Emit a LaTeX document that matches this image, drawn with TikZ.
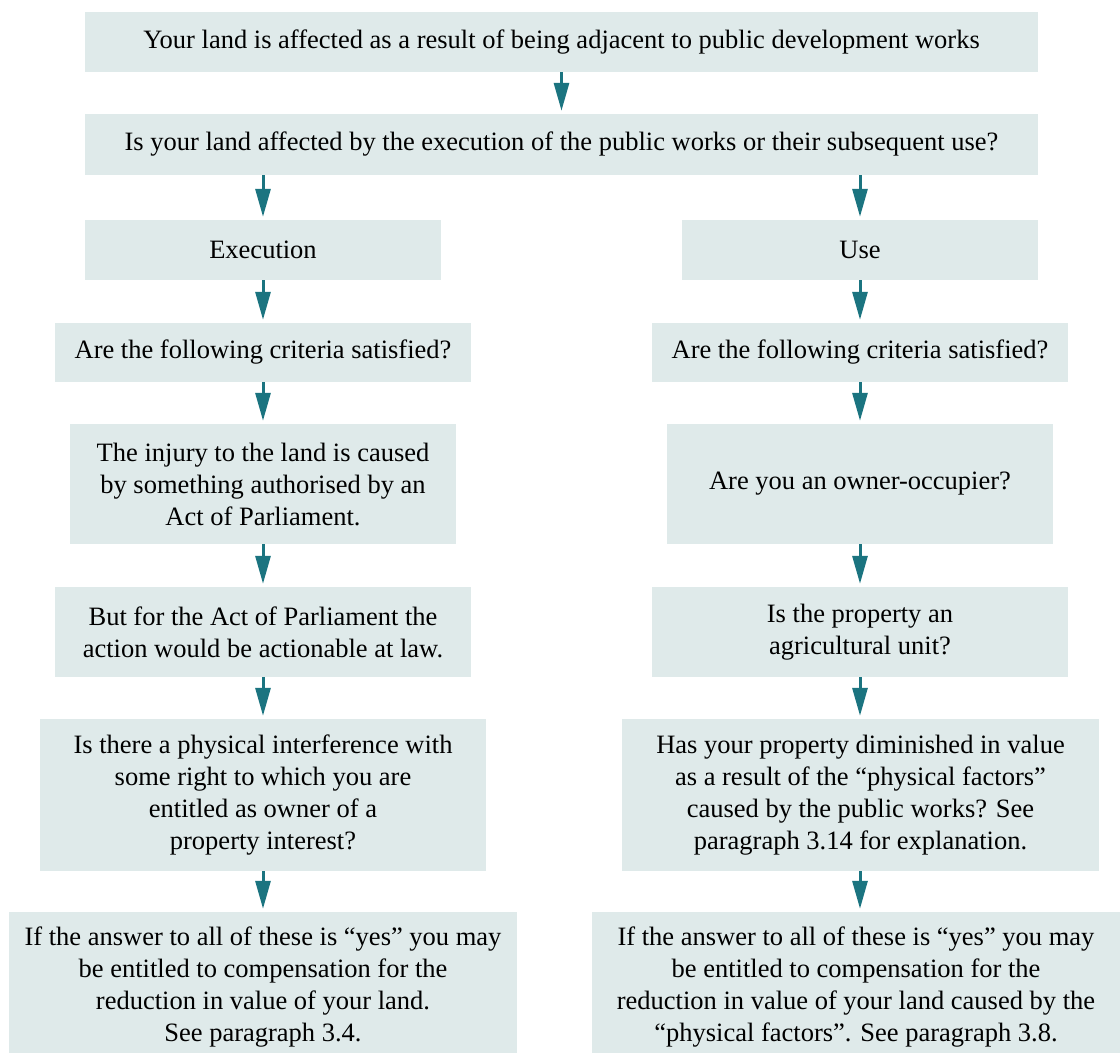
\documentclass[tikz,border=0pt]{standalone}
\usepackage{fontspec}
\setmainfont{Liberation Serif}
\usetikzlibrary{arrows.meta}
\definecolor{boxfill}{HTML}{DFEAEA}
\definecolor{flowteal}{HTML}{1B7480}
\tikzset{
  box/.style={rectangle, fill=boxfill, inner sep=0pt, align=center,
              font=\fontsize{26.5}{32}\selectfont},
  flow/.style={draw=flowteal, line width=3pt,
               -{Triangle[length=28pt,width=15pt,fill=flowteal]},
               shorten >=3pt}
}
\begin{document}
\begin{tikzpicture}[x=1pt,y=-1pt]
\useasboundingbox[fill=white] (0,0) rectangle (1120,1053);

% trunk
\node[box, minimum width=953pt, minimum height=60pt] (start) at (561.5,42)
  {Your land is affected as a result of being adjacent to public development works};
\node[box, minimum width=953pt, minimum height=61pt] (which) at (561.5,144.5)
  {Is your land affected by the execution of the public works or their subsequent use?};

% execution branch
\node[box, minimum width=356pt, minimum height=60pt] (exec) at (263,250) {Execution};
\node[box, minimum width=416pt, minimum height=59pt] (critL) at (263,352.5)
  {Are the following criteria satisfied?};
\node[box, minimum width=386pt, minimum height=120pt] (injury) at (263,484)
  {The injury to the land is caused\\by something authorised by an\\Act of Parliament.};
\node[box, minimum width=416pt, minimum height=90pt] (butfor) at (263,632)
  {But for the Act of Parliament the\\action would be actionable at law.};
\node[box, minimum width=446pt, minimum height=152pt] (interf) at (263,795)
  {Is there a physical interference with\\some right to which you are\\entitled as owner of a\\property interest?};
\node[box, minimum width=508pt, minimum height=150pt] (resL) at (263,987)
  {If the answer to all of these is “yes” you may\\be entitled to compensation for the\\reduction in value of your land.\\See paragraph 3.4.};

% use branch
\node[box, minimum width=356pt, minimum height=60pt] (use) at (860,250) {Use};
\node[box, minimum width=416pt, minimum height=59pt] (critR) at (860,352.5)
  {Are the following criteria satisfied?};
\node[box, minimum width=386pt, minimum height=120pt] (owner) at (860,484)
  {Are you an owner-occupier?};
\node[box, minimum width=416pt, minimum height=90pt] (agri) at (860,632)
  {Is the property an\\agricultural unit?};
\node[box, minimum width=477pt, minimum height=152pt] (value) at (860.5,795)
  {Has your property diminished in value\\as a result of the “physical factors”\\caused by the public works? See\\paragraph 3.14 for explanation.};
\node[box, minimum width=528pt, minimum height=150pt] (resR) at (856,987)
  {If the answer to all of these is “yes” you may\\be entitled to compensation for the\\reduction in value of your land caused by the\\“physical factors”. See paragraph 3.8.};

% connectors
\draw[flow] (start) -- (which);
\draw[flow] (exec |- which.south) -- (exec.north);
\draw[flow] (use |- which.south) -- (use.north);
\draw[flow] (exec) -- (critL);
\draw[flow] (critL) -- (injury);
\draw[flow] (injury) -- (butfor);
\draw[flow] (butfor) -- (interf);
\draw[flow] (interf) -- (resL);
\draw[flow] (use) -- (critR);
\draw[flow] (critR) -- (owner);
\draw[flow] (owner) -- (agri);
\draw[flow] (agri) -- (value.north -| agri);
\draw[flow] (value.south -| agri) -- (resR.north -| agri);
\end{tikzpicture}
\end{document}
